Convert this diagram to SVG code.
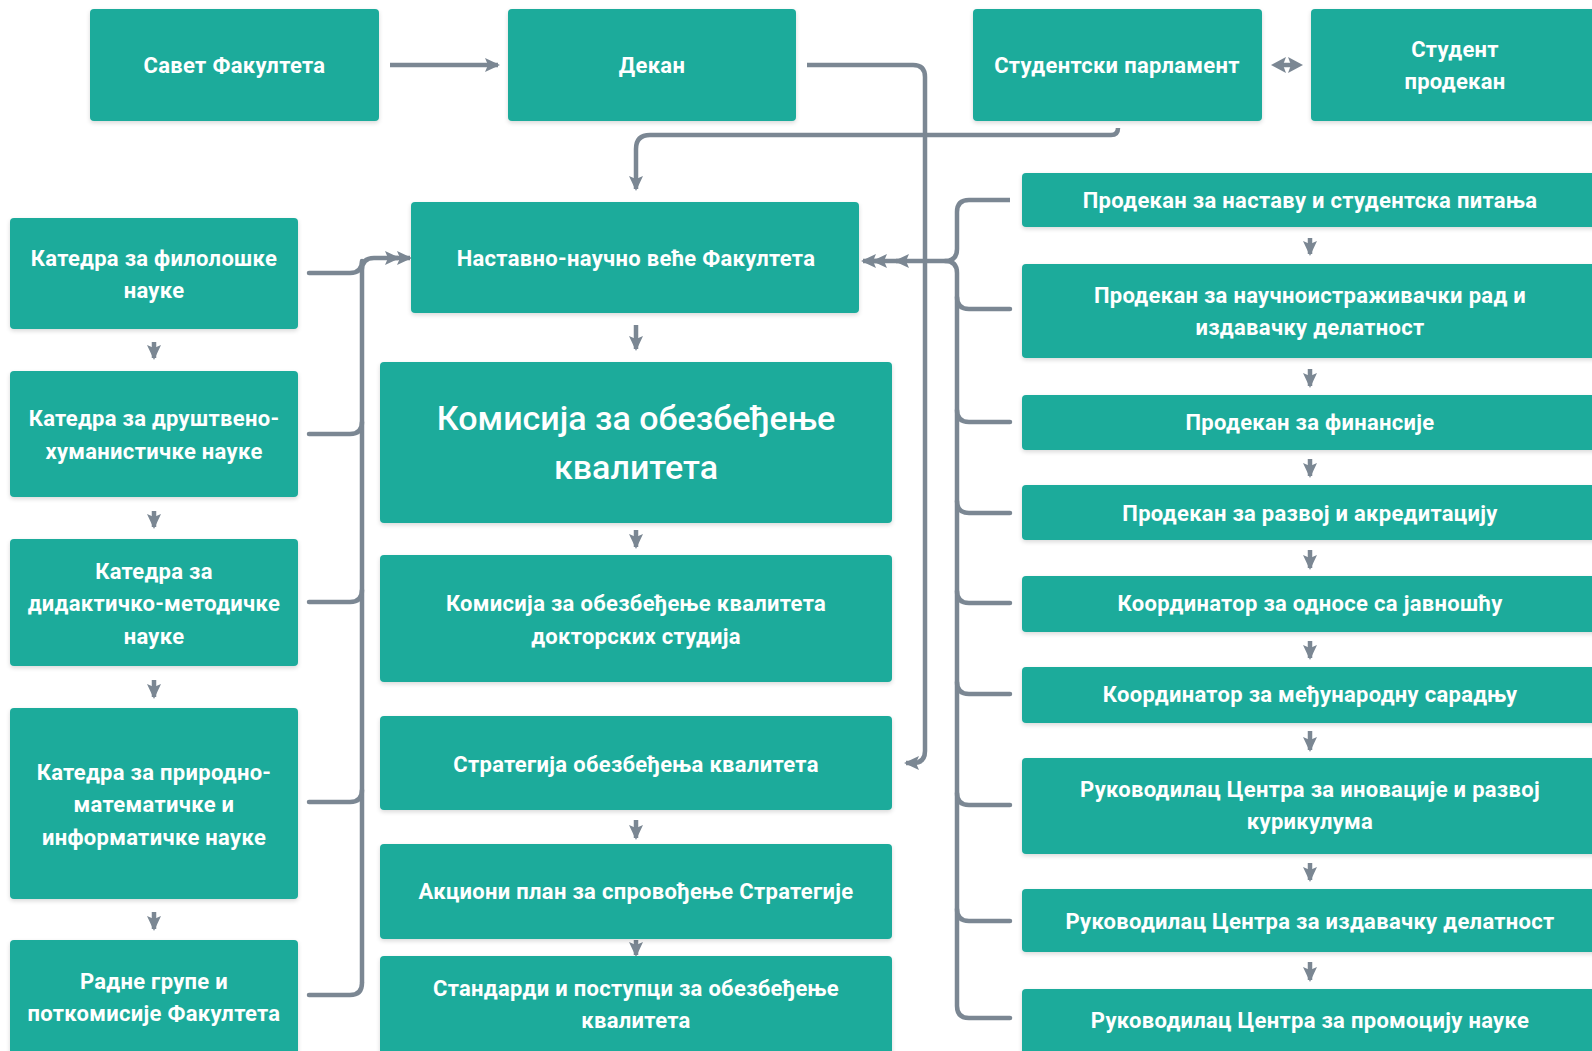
<svg xmlns="http://www.w3.org/2000/svg" width="1592" height="1051" viewBox="0 0 1592 1051">
<style>
.b{fill:#1cab9b;filter:url(#sh)}
.t{font-family:Roboto,"Liberation Sans",sans-serif;font-weight:700;font-size:22px;letter-spacing:0.3px;fill:#fff;text-anchor:middle}
.big{font-family:Roboto,"Liberation Sans",sans-serif;font-weight:500;font-size:34px;fill:#fff;text-anchor:middle}
.c{stroke:#7b8793;stroke-width:4.5;fill:none;stroke-linecap:round}
.a{stroke:#7b8793;stroke-width:4.5;fill:none;marker-end:url(#ah)}
.h{fill:#7b8793}
</style>
<defs>
<filter id="sh" x="-5%" y="-10%" width="110%" height="130%"><feDropShadow dx="0" dy="2" stdDeviation="2" flood-color="#000" flood-opacity="0.15"/></filter>
<marker id="ah" viewBox="0 0 18 18" refX="15" refY="9" markerWidth="18" markerHeight="18" markerUnits="userSpaceOnUse" orient="auto"><path d="M2,2 L17,9 L2,16 L5,9 z" fill="#7b8793"/></marker>
</defs>

<g id="connectors">
<path class="a" d="M390,65 H498"/>
<path class="a" d="M807,65 H913 Q925,65 925,77 V751 Q925,763 913,763 H906"/>
<path class="c" d="M1280,65 H1294"/>
<path class="h" d="M1271,65 L1286,57 L1283,65 L1286,73 z"/>
<path class="h" d="M1303,65 L1288,57 L1291,65 L1288,73 z"/>
<path class="a" d="M1118,128 Q1118,135 1111,135 H650 Q636,135 636,149 V189"/>
<!-- left brace -->
<path class="a" d="M362,983 V270 Q362,258 374,258 H410"/>
<path class="a" d="M390,258 H398"/>
<path class="c" d="M309,273 H350 Q362,273 362,261"/>
<path class="c" d="M309,434 H350 Q362,434 362,422"/>
<path class="c" d="M309,602 H350 Q362,602 362,590"/>
<path class="c" d="M309,802 H350 Q362,802 362,790"/>
<path class="c" d="M309,995 H350 Q362,995 362,983"/>
<!-- right brace -->
<path class="a" d="M1010,200 H969 Q957,200 957,212 V249 Q957,261 945,261 H863"/>
<path class="a" d="M882,261 H874"/>
<path class="a" d="M905,261 H896"/>
<path class="c" d="M945,261 Q957,261 957,273 V1006 Q957,1018 969,1018 H1010"/>
<path class="c" d="M1010,309 H969 Q957,309 957,297"/>
<path class="c" d="M1010,422 H969 Q957,422 957,410"/>
<path class="c" d="M1010,513 H969 Q957,513 957,501"/>
<path class="c" d="M1010,603 H969 Q957,603 957,591"/>
<path class="c" d="M1010,694 H969 Q957,694 957,682"/>
<path class="c" d="M1010,805 H969 Q957,805 957,793"/>
<path class="c" d="M1010,921 H969 Q957,921 957,909"/>
<!-- small down arrows -->
<path class="a" d="M154,342 V358"/>
<path class="a" d="M154,511 V527"/>
<path class="a" d="M154,680 V697"/>
<path class="a" d="M154,912 V929"/>
<path class="a" d="M636,325 V349"/>
<path class="a" d="M636,530 V547"/>
<path class="a" d="M636,820 V838"/>
<path class="a" d="M636,940 V955"/>
<path class="a" d="M1310,238 V254"/>
<path class="a" d="M1310,369 V386"/>
<path class="a" d="M1310,459 V476"/>
<path class="a" d="M1310,550 V568"/>
<path class="a" d="M1310,641 V658"/>
<path class="a" d="M1310,731 V750"/>
<path class="a" d="M1310,863 V880"/>
<path class="a" d="M1310,962 V980"/>
</g>

<g id="savet"><rect class="b" x="90" y="9" width="289" height="112" rx="4"/><text class="t" x="234.5" y="73">Савет Факултета</text></g>
<g id="dekan"><rect class="b" x="508" y="9" width="288" height="112" rx="4"/><text class="t" x="652" y="73">Декан</text></g>
<g id="studentski-parlament"><rect class="b" x="973" y="9" width="289" height="112" rx="4"/><text class="t" x="1117" y="73">Студентски парламент</text></g>
<g id="student-prodekan"><rect class="b" x="1311" y="9" width="300" height="112" rx="4"/><text class="t" x="1455" y="57">Студент</text><text class="t" x="1455" y="89">продекан</text></g>

<g id="katedra-filoloske"><rect class="b" x="10" y="218" width="288" height="111" rx="4"/><text class="t" x="154" y="266">Катедра за филолошке</text><text class="t" x="154" y="298">науке</text></g>
<g id="katedra-drustveno"><rect class="b" x="10" y="371" width="288" height="126" rx="4"/><text class="t" x="154" y="426">Катедра за друштвено-</text><text class="t" x="154" y="459">хуманистичке науке</text></g>
<g id="katedra-didakticko"><rect class="b" x="10" y="539" width="288" height="127" rx="4"/><text class="t" x="154" y="579">Катедра за</text><text class="t" x="154" y="611">дидактичко-методичке</text><text class="t" x="154" y="644">науке</text></g>
<g id="katedra-prirodno"><rect class="b" x="10" y="708" width="288" height="191" rx="4"/><text class="t" x="154" y="780">Катедра за природно-</text><text class="t" x="154" y="812">математичке и</text><text class="t" x="154" y="845">информатичке науке</text></g>
<g id="radne-grupe"><rect class="b" x="10" y="940" width="288" height="125" rx="4"/><text class="t" x="154" y="989">Радне групе и</text><text class="t" x="154" y="1021">поткомисије Факултета</text></g>

<g id="nastavno-naucno"><rect class="b" x="411" y="202" width="448" height="111" rx="4"/><text class="t" x="636" y="266">Наставно-научно веће Факултета</text></g>
<g id="komisija"><rect class="b" x="380" y="362" width="512" height="161" rx="4"/><text class="big" x="636" y="430">Комисија за обезбеђење</text><text class="big" x="636" y="479">квалитета</text></g>
<g id="komisija-doktorske"><rect class="b" x="380" y="555" width="512" height="127" rx="4"/><text class="t" x="636" y="611">Комисија за обезбеђење квалитета</text><text class="t" x="636" y="644">докторских студија</text></g>
<g id="strategija"><rect class="b" x="380" y="716" width="512" height="94" rx="4"/><text class="t" x="636" y="772">Стратегија обезбеђења квалитета</text></g>
<g id="akcioni-plan"><rect class="b" x="380" y="844" width="512" height="95" rx="4"/><text class="t" x="636" y="899">Акциони план за спровођење Стратегије</text></g>
<g id="standardi"><rect class="b" x="380" y="956" width="512" height="110" rx="4"/><text class="t" x="636" y="996">Стандарди и поступци за обезбеђење</text><text class="t" x="636" y="1028">квалитета</text></g>

<g id="prodekan-nastava"><rect class="b" x="1022" y="173" width="590" height="54" rx="4"/><text class="t" x="1310" y="208">Продекан за наставу и студентска питања</text></g>
<g id="prodekan-nauka"><rect class="b" x="1022" y="264" width="590" height="94" rx="4"/><text class="t" x="1310" y="303">Продекан за научноистраживачки рад и</text><text class="t" x="1310" y="335">издавачку делатност</text></g>
<g id="prodekan-finansije"><rect class="b" x="1022" y="395" width="590" height="55" rx="4"/><text class="t" x="1310" y="430">Продекан за финансије</text></g>
<g id="prodekan-razvoj"><rect class="b" x="1022" y="485" width="590" height="55" rx="4"/><text class="t" x="1310" y="521">Продекан за развој и акредитацију</text></g>
<g id="koordinator-javnost"><rect class="b" x="1022" y="576" width="590" height="56" rx="4"/><text class="t" x="1310" y="611">Координатор за односе са јавношћу</text></g>
<g id="koordinator-medjunarodna"><rect class="b" x="1022" y="667" width="590" height="56" rx="4"/><text class="t" x="1310" y="702">Координатор за међународну сарадњу</text></g>
<g id="centar-inovacije"><rect class="b" x="1022" y="758" width="590" height="96" rx="4"/><text class="t" x="1310" y="797">Руководилац Центра за иновације и развој</text><text class="t" x="1310" y="829">курикулума</text></g>
<g id="centar-izdavacka"><rect class="b" x="1022" y="889" width="590" height="63" rx="4"/><text class="t" x="1310" y="929">Руководилац Центра за издавачку делатност</text></g>
<g id="centar-promocija"><rect class="b" x="1022" y="989" width="590" height="80" rx="4"/><text class="t" x="1310" y="1028">Руководилац Центра за промоцију науке</text></g>
</svg>
